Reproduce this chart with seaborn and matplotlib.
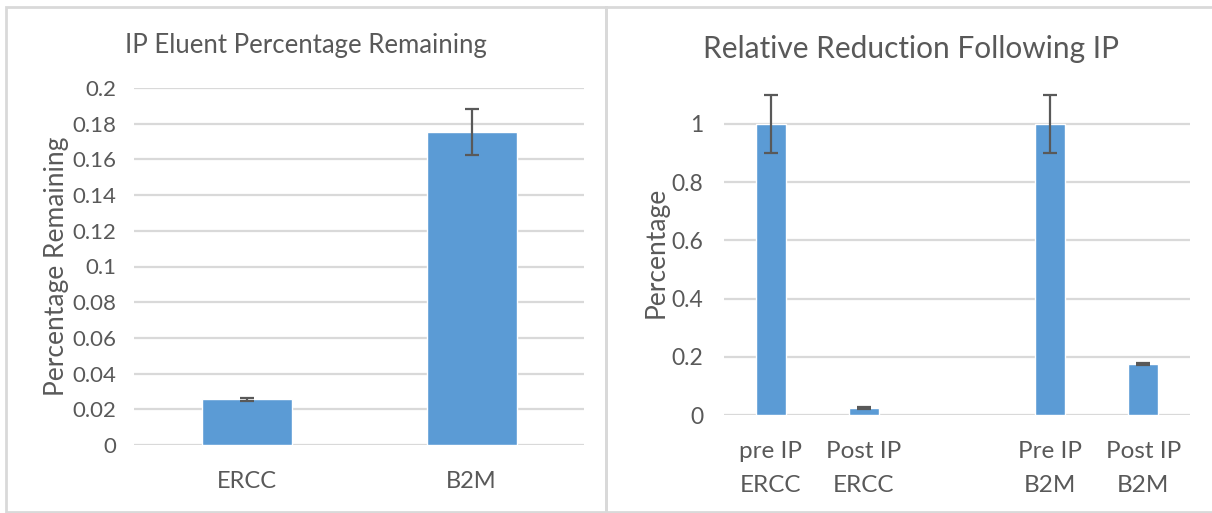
import matplotlib
matplotlib.use("Agg")
import matplotlib.pyplot as plt
import seaborn as sns
import pandas as pd
from matplotlib.patches import Rectangle

# ---- data ----
left_categories = ["ERCC", "B2M"]
left_values = [0.0255, 0.1755]
left_errors = [0.0006, 0.013]

right_categories = ["pre IP\nERCC", "Post IP\nERCC", "Pre IP\nB2M", "Post IP\nB2M"]
right_order = ["pre IP\nERCC", "Post IP\nERCC", " ", "Pre IP\nB2M", "Post IP\nB2M"]
right_values = [1.0, 0.025, 1.0, 0.174]
right_errors = [0.1, 0.003, 0.1, 0.003]

left_yticks = [0, 0.02, 0.04, 0.06, 0.08, 0.1, 0.12, 0.14, 0.16, 0.18, 0.2]
left_yticklabels = ["0", "0.02", "0.04", "0.06", "0.08", "0.1", "0.12", "0.14", "0.16", "0.18", "0.2"]
right_yticks = [0, 0.2, 0.4, 0.6, 0.8, 1.0]
right_yticklabels = ["0", "0.2", "0.4", "0.6", "0.8", "1"]

sns.set_theme(style="white")
plt.rcParams['font.family'] = ['Lato', 'DejaVu Sans']

BAR = "#5B9BD5"
TXT = "#595959"
GRID = "#D9D9D9"
ERR = "#595959"

W, H = 1212, 513
fig = plt.figure(figsize=(W / 100, H / 100), dpi=100)
fig.patch.set_facecolor("white")

# panel borders
def px_rect(x0, y0, x1, y1):
    return Rectangle((x0 / W, 1 - y1 / H), (x1 - x0) / W, (y1 - y0) / H,
                     transform=fig.transFigure, fill=False, edgecolor=GRID, lw=2)
fig.patches.append(px_rect(6, 7, 606, 512))
fig.patches.append(px_rect(606, 7, 1216, 512))

def axes_px(x0, y0, x1, y1):
    return fig.add_axes([x0 / W, 1 - y1 / H, (x1 - x0) / W, (y1 - y0) / H])

def style(ax):
    for s in ax.spines.values():
        s.set_visible(False)
    ax.tick_params(axis="both", length=0, colors=TXT)
    ax.grid(axis="y", color=GRID, lw=1.6)
    ax.set_axisbelow(True)

# ---- left chart ----
axL = axes_px(134, 88, 584, 445)
dfL = pd.DataFrame({"cat": left_categories, "val": left_values})
sns.barplot(data=dfL, x="cat", y="val", order=left_categories, color=BAR,
            saturation=1, width=0.4, errorbar=None, ax=axL)
axL.errorbar(range(len(left_categories)), left_values, yerr=left_errors, fmt="none",
             ecolor=ERR, elinewidth=1.6, capsize=5, capthick=1.6, zorder=5)
style(axL)
axL.set_ylim(0, 0.2)
axL.set_xlim(-0.5, 1.5)
axL.set_yticks(left_yticks)
axL.set_yticklabels(left_yticklabels, fontsize=16, color=TXT)
axL.tick_params(axis="y", pad=13)
axL.tick_params(axis="x", pad=19, labelsize=17)
axL.set_xlabel("")
axL.set_ylabel("Percentage Remaining", fontsize=19, color=TXT, labelpad=2)
axL.set_title("IP Eluent Percentage Remaining", fontsize=18.5, color=TXT, pad=25,
              x=(306 - 134) / 450)

# ---- right chart ----
axR = axes_px(724, 89, 1190, 415)
dfR = pd.DataFrame({"cat": right_categories, "val": right_values})
sns.barplot(data=dfR, x="cat", y="val", order=right_order, color=BAR,
            saturation=1, width=0.32, errorbar=None, ax=axR)
pos = [right_order.index(c) for c in right_categories]
axR.errorbar(pos, right_values, yerr=right_errors, fmt="none",
             ecolor=ERR, elinewidth=1.6, capsize=5, capthick=1.6, zorder=5)
style(axR)
axR.set_ylim(0, 1.12)
axR.set_xlim(-0.5, 4.5)
axR.set_yticks(right_yticks)
axR.set_yticklabels(right_yticklabels, fontsize=16.5, color=TXT)
axR.tick_params(axis="y", pad=15)
axR.tick_params(axis="x", pad=19, labelsize=17.5)
for t in axR.get_xticklabels():
    t.set_linespacing(1.75)
axR.set_xlabel("")
axR.set_ylabel("Percentage", fontsize=19, color=TXT, labelpad=2)
axR.set_title("Relative Reduction Following IP", fontsize=21.5, color=TXT, pad=22,
              x=(911 - 724) / 466)

fig.savefig("out.png", dpi=100)
